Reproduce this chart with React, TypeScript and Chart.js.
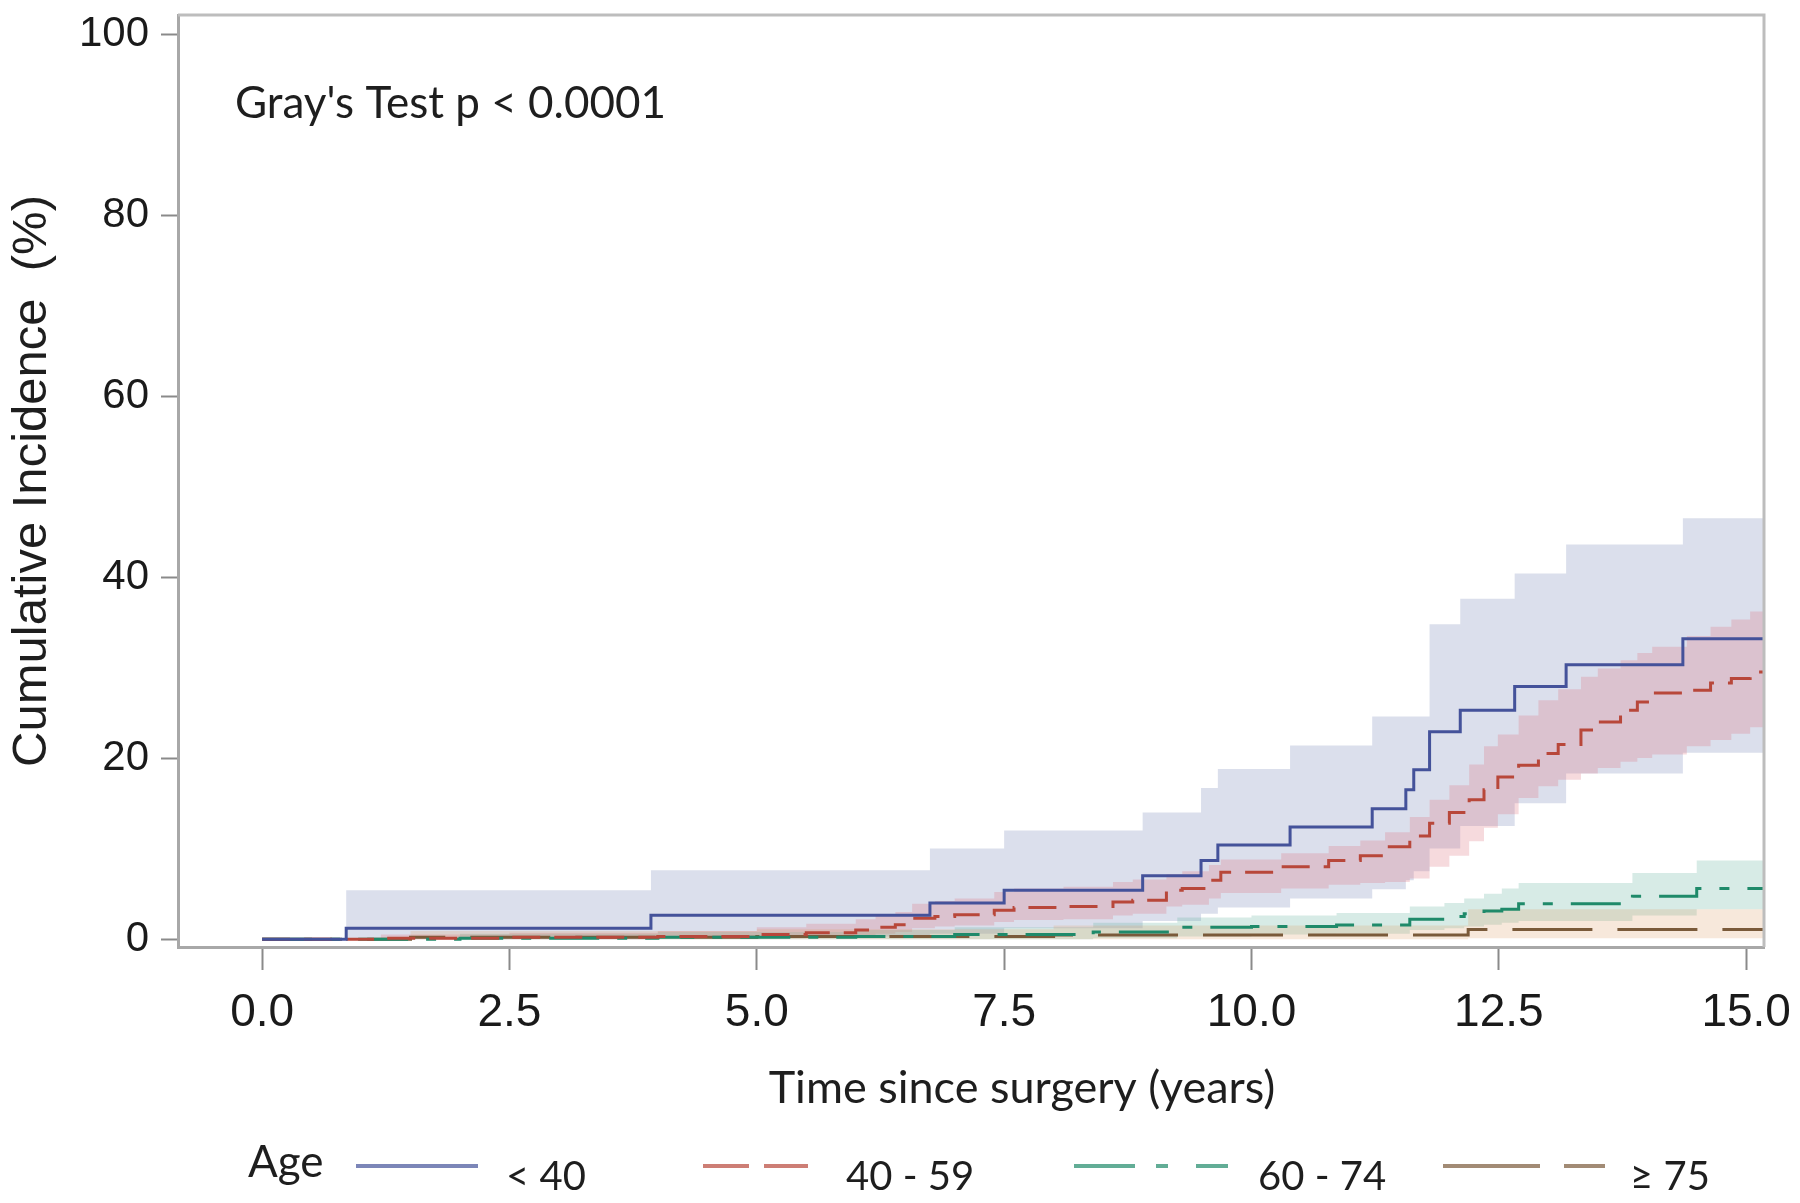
import React, { useEffect, useRef } from "react";
import { Chart, registerables } from "chart.js";

Chart.register(...registerables);

// ---------- data ----------
const xTickValues = [0, 2.5, 5, 7.5, 10, 12.5, 15];
const yTickValues = [0, 20, 40, 60, 80, 100];
const groupLabels = ["< 40", "40 - 59", "60 - 74", "\u2265 75"];
const legendTitle = "Age";
const testLabel = "Gray's Test p < 0.0001";
const xAxisTitle = "Time since surgery (years)";
const yAxisTitle = "Cumulative Incidence  (%)";

// Age < 40
const timeLt40 = [0, 0.85, 3.93, 6.75, 7.5, 8.9, 9.49, 9.66, 10.39, 11.22, 11.56, 11.64, 11.8, 12.11, 12.66, 13.18, 14.36, 15.18];
const estLt40 = [0, 1.2, 2.65, 4.0, 5.4, 7.0, 8.7, 10.4, 12.4, 14.4, 16.5, 18.7, 22.9, 25.3, 27.9, 30.3, 33.2, 33.2];
const loLt40 = [0, 0, 0.3, 0.6, 1.2, 2.0, 2.8, 3.5, 4.5, 5.5, 6.5, 7.5, 10.0, 12.5, 15.0, 18.3, 20.6, 20.6];
const hiLt40 = [0, 5.4, 7.6, 10.0, 12.0, 14.0, 16.7, 18.8, 21.4, 24.6, 24.6, 24.6, 34.8, 37.6, 40.4, 43.6, 46.5, 46.5];

// Age 40 - 59
const time4059 = [0, 1.2, 2.5, 4.0, 5.0, 5.5, 6.0, 6.2, 6.4, 6.57, 6.8, 7.0, 7.4, 7.6, 8.1, 8.6, 8.8, 9.14, 9.3, 9.57, 9.69, 10.3, 10.78, 11.1, 11.35, 11.6, 11.8, 12.0, 12.2, 12.35, 12.49, 12.7, 12.9, 13.1, 13.33, 13.5, 13.73, 13.9, 14.05, 14.4, 14.64, 14.85, 15.04, 15.18];
const est4059 = [0, 0.1, 0.2, 0.3, 0.5, 0.7, 1.0, 1.3, 1.6, 2.3, 2.5, 2.7, 3.2, 3.5, 3.6, 4.1, 4.3, 5.4, 5.6, 6.5, 7.4, 8.0, 8.7, 9.2, 10.2, 11.4, 12.8, 14.0, 15.4, 16.5, 17.9, 19.2, 20.5, 21.5, 23.1, 24.0, 25.3, 26.2, 27.2, 27.5, 28.3, 28.8, 29.5, 29.5];
const lo4059 = [0, 0, 0, 0.05, 0.1, 0.2, 0.4, 0.6, 0.8, 1.2, 1.4, 1.5, 1.9, 2.1, 2.2, 2.6, 2.8, 3.6, 3.8, 4.5, 5.1, 5.6, 6.0, 6.2, 6.3, 6.7, 8.0, 9.2, 10.8, 12.3, 13.8, 15.6, 16.9, 17.6, 18.3, 18.9, 19.6, 20.0, 20.4, 21.3, 22.0, 22.7, 23.4, 23.4];
const hi4059 = [0, 0.5, 0.7, 0.9, 1.3, 1.7, 2.2, 2.6, 3.0, 3.9, 4.2, 4.5, 5.2, 5.6, 5.8, 6.3, 6.6, 7.2, 7.5, 8.2, 8.8, 9.5, 10.3, 10.9, 11.8, 13.5, 15.4, 17.0, 19.3, 21.3, 22.6, 24.7, 26.4, 27.6, 29.0, 29.9, 30.8, 31.6, 32.3, 33.5, 34.5, 35.3, 36.2, 36.2];

// Age 60 - 74
const time6074 = [0, 2.0, 4.0, 6.0, 7.0, 8.4, 9.25, 10.0, 10.86, 11.6, 11.95, 12.15, 12.35, 12.53, 12.7, 13.85, 14.5, 15.18];
const est6074 = [0, 0.1, 0.2, 0.3, 0.5, 0.8, 1.3, 1.4, 1.55, 2.2, 2.5, 2.8, 3.1, 3.3, 3.9, 4.75, 5.6, 5.6];
const lo6074 = [0, 0, 0, 0, 0, 0.1, 0.3, 0.5, 0.6, 1.0, 1.2, 1.4, 1.6, 1.8, 2.0, 2.6, 3.3, 3.3];
const hi6074 = [0, 0.6, 0.8, 1.0, 1.3, 1.8, 2.4, 2.6, 2.9, 3.6, 4.0, 4.5, 5.0, 5.6, 6.2, 7.3, 8.7, 8.7];

// Age >= 75
const timeGe75 = [0, 1.5, 5.0, 8.0, 12.19, 15.18];
const estGe75 = [0, 0.2, 0.3, 0.45, 1.07, 1.07];
const loGe75 = [0, 0, 0, 0, 0.1, 0.1];
const hiGe75 = [0, 0.9, 1.1, 1.5, 3.3, 3.3];

// ---------- styles ----------
const groups = [
  { time: timeLt40, est: estLt40, lo: loLt40, hi: hiLt40, line: "#44529a", band: "rgba(111,126,179,0.25)", dash: [] as number[], legendDash: [] as number[] },
  { time: time4059, est: est4059, lo: lo4059, hi: hi4059, line: "#b8473a", band: "rgba(222,112,122,0.26)", dash: [28, 14], legendDash: [46, 15] },
  { time: time6074, est: est6074, lo: lo6074, hi: hi6074, line: "#1f8a6a", band: "rgba(102,178,160,0.26)", dash: [50, 18, 10, 18], legendDash: [61, 21, 12, 28] },
  { time: timeGe75, est: estGe75, lo: loGe75, hi: hiGe75, line: "#7a5a3a", band: "rgba(220,160,105,0.24)", dash: [80, 25], legendDash: [97, 24] },
];

const legendSamples = [
  { x0: 356, x1: 478, labelX: 506 },
  { x0: 703, x1: 808, labelX: 846 },
  { x0: 1074, x1: 1228, labelX: 1258 },
  { x0: 1443, x1: 1605, labelX: 1630 },
];

const toPoints = (t: number[], v: number[]) => t.map((x, i) => ({ x, y: v[i] }));

const TICK_FONT = "'Liberation Sans', Arial, sans-serif";
const TEXT_FONT = "Lato, 'Open Sans', sans-serif";

const decorPlugin = {
  id: "decor",
  afterDraw(chart: any) {
    const { ctx, chartArea: a } = chart;
    ctx.save();
    // frame (top/right)
    ctx.strokeStyle = "#bdbdbd";
    ctx.lineWidth = 3;
    ctx.setLineDash([]);
    ctx.beginPath();
    ctx.moveTo(a.left, a.top);
    ctx.lineTo(a.right, a.top);
    ctx.lineTo(a.right, a.bottom);
    ctx.stroke();

    ctx.fillStyle = "#1e1e1e";
    // test annotation
    ctx.font = `44px ${TEXT_FONT}`;
    ctx.textAlign = "left";
    ctx.textBaseline = "middle";
    ctx.fillText(testLabel, 235, 104);

    // x title
    ctx.font = `45px ${TEXT_FONT}`;
    ctx.textAlign = "center";
    ctx.fillText(xAxisTitle, 1022, 1088);

    // y title
    ctx.save();
    ctx.translate(32, (a.top + a.bottom) / 2);
    ctx.rotate(-Math.PI / 2);
    ctx.font = `49px ${TICK_FONT}`;
    ctx.textAlign = "center";
    ctx.textBaseline = "middle";
    ctx.fillText(yAxisTitle, 0, 0);
    ctx.restore();

    // legend
    ctx.font = `44px ${TEXT_FONT}`;
    ctx.textAlign = "left";
    ctx.textBaseline = "middle";
    ctx.fillText(legendTitle, 248, 1163);
    ctx.font = `40px ${TEXT_FONT}`;
    groups.forEach((g, i) => {
      const s = legendSamples[i];
      ctx.strokeStyle = g.line;
      ctx.globalAlpha = 0.7;
      ctx.lineWidth = 4;
      ctx.setLineDash(g.legendDash);
      ctx.beginPath();
      ctx.moveTo(s.x0, 1166);
      ctx.lineTo(s.x1, 1166);
      ctx.stroke();
      ctx.globalAlpha = 1;
      ctx.setLineDash([]);
      ctx.fillText(groupLabels[i], s.labelX, 1177);
    });
    ctx.restore();
  },
};

export default function App() {
  const ref = useRef<HTMLCanvasElement | null>(null);
  useEffect(() => {
    if (!ref.current) return;
    const datasets: any[] = [];
    groups.forEach((g, i) => {
      datasets.push({
        label: groupLabels[i] + " upper",
        data: toPoints(g.time, g.hi),
        stepped: true,
        fill: "+1",
        backgroundColor: g.band,
        borderColor: "rgba(0,0,0,0)",
        borderWidth: 0,
        pointRadius: 0,
        order: 20 - i,
      });
      datasets.push({
        label: groupLabels[i] + " lower",
        data: toPoints(g.time, g.lo),
        stepped: true,
        fill: false,
        borderColor: "rgba(0,0,0,0)",
        borderWidth: 0,
        pointRadius: 0,
        order: 20 - i,
      });
    });
    groups.forEach((g, i) => {
      datasets.push({
        label: groupLabels[i],
        data: toPoints(g.time, g.est),
        stepped: true,
        fill: false,
        borderColor: g.line,
        borderWidth: 3,
        borderDash: g.dash,
        pointRadius: 0,
        order: 1 + i,
      });
    });

    const chart = new Chart(ref.current, {
      type: "line",
      data: { datasets },
      options: {
        responsive: true,
        maintainAspectRatio: false,
        animation: false,
        layout: { padding: { top: 15, right: 36, left: 0, bottom: 0 } },
        plugins: { legend: { display: false }, tooltip: { enabled: false }, title: { display: false } },
        elements: { line: { tension: 0 } },
        scales: {
          x: {
            type: "linear",
            min: -0.85,
            max: 15.18,
            afterBuildTicks: (s: any) => {
              s.ticks = xTickValues.map((v) => ({ value: v }));
            },
            afterFit: (s: any) => {
              s.height = 256;
              s.paddingLeft = 0;
              s.paddingRight = 0;
            },
            grid: { drawOnChartArea: false, drawTicks: true, tickLength: 23, tickWidth: 2, tickColor: "#8a8a8a", color: "#8a8a8a" },
            border: { display: true, color: "#a8a8a8", width: 3 },
            ticks: {
              font: { family: TICK_FONT, size: 46 },
              color: "#1a1a1a",
              padding: 16,
              maxRotation: 0,
              autoSkip: false,
              callback: (v: any) => Number(v).toFixed(1),
            },
          },
          y: {
            type: "linear",
            min: -0.87,
            max: 102.1,
            afterBuildTicks: (s: any) => {
              s.ticks = yTickValues.map((v) => ({ value: v }));
            },
            afterFit: (s: any) => {
              s.width = 178;
              s.paddingTop = 0;
              s.paddingBottom = 0;
            },
            grid: { drawOnChartArea: false, drawTicks: true, tickLength: 17, tickWidth: 2, tickColor: "#8a8a8a", color: "#8a8a8a" },
            border: { display: true, color: "#a8a8a8", width: 3 },
            ticks: {
              font: { family: TICK_FONT, size: 42 },
              color: "#1a1a1a",
              padding: 12,
              autoSkip: false,
              callback: (v: any) => String(Math.round(Number(v))),
            },
          },
        },
      },
      plugins: [decorPlugin],
    } as any);
    return () => chart.destroy();
  }, []);

  return (
    <div style={{ position: "absolute", left: 0, top: 0, width: 1800, height: 1203, background: "#fff" }}>
      <canvas ref={ref} style={{ display: "block" }} />
    </div>
  );
}
